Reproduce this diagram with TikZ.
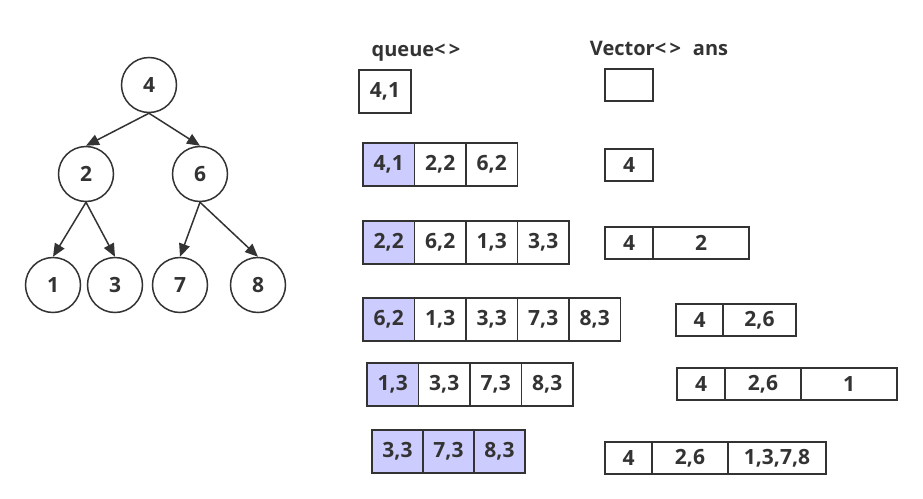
\documentclass[tikz,border=0pt]{standalone}
\usepackage{fontspec}
\setmainfont{Open Sans}
\usetikzlibrary{arrows.meta,positioning}
\definecolor{inkgray}{RGB}{51,51,51}
\definecolor{qfill}{RGB}{204,204,255}

\begin{document}
\begin{tikzpicture}[x=1pt,y=-1pt,
  nd/.style={circle,draw=inkgray,line width=1.5pt,minimum size=55pt,
             inner sep=0pt,text=inkgray,font=\fontsize{21}{24}\selectfont\bfseries},
  ed/.style={-{Triangle[length=13pt,width=11pt]},line width=1.5pt,color=inkgray},
  qc/.style={draw=inkgray,line width=1.5pt,minimum width=51.5pt,minimum height=43pt,
             inner sep=0pt,outer sep=0pt,text=inkgray,
             font=\fontsize{21}{24}\selectfont\bfseries},
  qh/.style={qc,fill=qfill},
  vc/.style={draw=inkgray,line width=1.5pt,minimum height=32pt,
             inner sep=0pt,outer sep=0pt,text=inkgray,
             font=\fontsize{21}{24}\selectfont\bfseries},
  hd/.style={text=inkgray,font=\fontsize{20}{23}\selectfont\bfseries}
]
\useasboundingbox (0,0) rectangle (923,498);

% tree
\node[nd] (n4) at (149,85)  {4};
\node[nd] (n2) at (86,174)  {2};
\node[nd] (n6) at (200,174) {6};
\node[nd] (n1) at (53,285)  {1};
\node[nd] (n3) at (115,285) {3};
\node[nd] (n7) at (180,285) {7};
\node[nd] (n8) at (258,285) {8};

\draw[ed] (n4.south) -- (n2.north);
\draw[ed] (n4.south) -- (n6.north);
\draw[ed] (n2.south) -- (n1.north);
\draw[ed] (n2.south) -- (n3.north);
\draw[ed] (n6.south) -- (n7.north);
\draw[ed] (n6.south) -- (n8.north);

% headers
\node[hd] (qtitle) at (416,53) {queue<\,>};
\node[hd] (vtitle) at (659,48) {Vector<\,>\hspace{12pt}ans};

% queue states
\node[qc,anchor=north west,minimum width=52pt] (q1a) at (359,70) {4,1};

\node[qh,anchor=north west] (q2a) at (363,143) {4,1};
\node[qc,right=0pt of q2a] (q2b) {2,2};
\node[qc,right=0pt of q2b] (q2c) {6,2};

\node[qh,anchor=north west] (q3a) at (363,221) {2,2};
\node[qc,right=0pt of q3a] (q3b) {6,2};
\node[qc,right=0pt of q3b] (q3c) {1,3};
\node[qc,right=0pt of q3c] (q3d) {3,3};

\node[qh,anchor=north west] (q4a) at (363,298) {6,2};
\node[qc,right=0pt of q4a] (q4b) {1,3};
\node[qc,right=0pt of q4b] (q4c) {3,3};
\node[qc,right=0pt of q4c] (q4d) {7,3};
\node[qc,right=0pt of q4d] (q4e) {8,3};

\node[qh,anchor=north west] (q5a) at (367,363) {1,3};
\node[qc,right=0pt of q5a] (q5b) {3,3};
\node[qc,right=0pt of q5b] (q5c) {7,3};
\node[qc,right=0pt of q5c] (q5d) {8,3};

\node[qh,anchor=north west,minimum width=51pt] (q6a) at (372,430) {3,3};
\node[qh,right=0pt of q6a,minimum width=51pt] (q6b) {7,3};
\node[qh,right=0pt of q6b,minimum width=51pt] (q6c) {8,3};

% ans states
\node[vc,anchor=north west,minimum width=48pt] (v1a) at (605,69) {};

\node[vc,anchor=north west,minimum width=48pt] (v2a) at (605,149) {4};

\node[vc,anchor=north west,minimum width=48pt] (v3a) at (605,227) {4};
\node[vc,right=0pt of v3a,minimum width=96pt] (v3b) {2};

\node[vc,anchor=north west,minimum width=47pt] (v4a) at (676,304) {4};
\node[vc,right=0pt of v4a,minimum width=73pt] (v4b) {2,6};

\node[vc,anchor=north west,minimum width=48pt] (v5a) at (677,368) {4};
\node[vc,right=0pt of v5a,minimum width=76pt] (v5b) {2,6};
\node[vc,right=0pt of v5b,minimum width=96pt] (v5c) {1};

\node[vc,anchor=north west,minimum width=47pt] (v6a) at (605,442) {4};
\node[vc,right=0pt of v6a,minimum width=76pt] (v6b) {2,6};
\node[vc,right=0pt of v6b,minimum width=98pt] (v6c) {1,3,7,8};
\end{tikzpicture}
\end{document}
